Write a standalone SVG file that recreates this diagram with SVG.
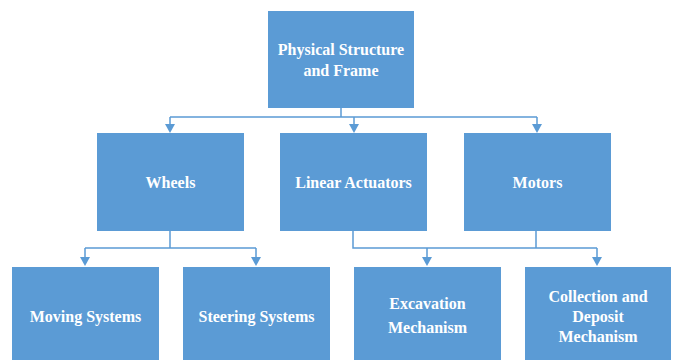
<svg xmlns="http://www.w3.org/2000/svg" width="675" height="360" viewBox="0 0 675 360">
<style>
.box{fill:#5B9BD5;}
.t{font-family:'Liberation Serif','Times New Roman','DejaVu Serif',serif;font-weight:700;font-size:16px;fill:#FFFFFF;text-anchor:middle;}
.c{fill:none;stroke:#5B9BD5;stroke-width:1.5;}
.a{fill:#5B9BD5;}
</style>
<rect width="675" height="360" fill="#FFFFFF"/>
<g id="connectors">
<path class="c" d="M341,108 V117 M170,117 H537"/>
<path class="c" d="M170,117 V124"/>
<path class="c" d="M354,117 V124"/>
<path class="c" d="M537,117 V124"/>
<path class="a" d="M165,124 L175,124 L170,133 Z"/>
<path class="a" d="M349,124 L359,124 L354,133 Z"/>
<path class="a" d="M532,124 L542,124 L537,133 Z"/>
<path class="c" d="M170,231 V248 M85,248 H256 M85,248 V258 M256,248 V258"/>
<path class="a" d="M80,257 L90,257 L85,266 Z"/>
<path class="a" d="M251,257 L261,257 L256,266 Z"/>
<path class="c" d="M353,231 V248 H597 M536,231 V248 M427,248 V258 M597,248 V258"/>
<path class="a" d="M422,257 L432,257 L427,266 Z"/>
<path class="a" d="M592,257 L602,257 L597,266 Z"/>
</g>
<g id="physical">
<rect class="box" x="268" y="11" width="146" height="97"/>
<text class="t" x="341" y="55">Physical Structure</text>
<text class="t" x="341" y="76">and Frame</text>
</g>
<g id="wheels">
<rect class="box" x="97" y="133" width="147" height="98"/>
<text class="t" x="170.5" y="188">Wheels</text>
</g>
<g id="linear">
<rect class="box" x="280" y="133" width="147" height="98"/>
<text class="t" x="353.5" y="188">Linear Actuators</text>
</g>
<g id="motors">
<rect class="box" x="464" y="133" width="147" height="98"/>
<text class="t" x="537.5" y="188">Motors</text>
</g>
<g id="moving">
<rect class="box" x="12" y="267" width="147" height="100"/>
<text class="t" x="85.5" y="322">Moving Systems</text>
</g>
<g id="steering">
<rect class="box" x="183" y="267" width="147" height="100"/>
<text class="t" x="256.5" y="322">Steering Systems</text>
</g>
<g id="excavation">
<rect class="box" x="354" y="267" width="147" height="100"/>
<text class="t" x="427.5" y="309">Excavation</text>
<text class="t" x="427.5" y="333">Mechanism</text>
</g>
<g id="collection">
<rect class="box" x="525" y="267" width="146" height="100"/>
<text class="t" x="598" y="302">Collection and</text>
<text class="t" x="598" y="322">Deposit</text>
<text class="t" x="598" y="342">Mechanism</text>
</g>
</svg>
